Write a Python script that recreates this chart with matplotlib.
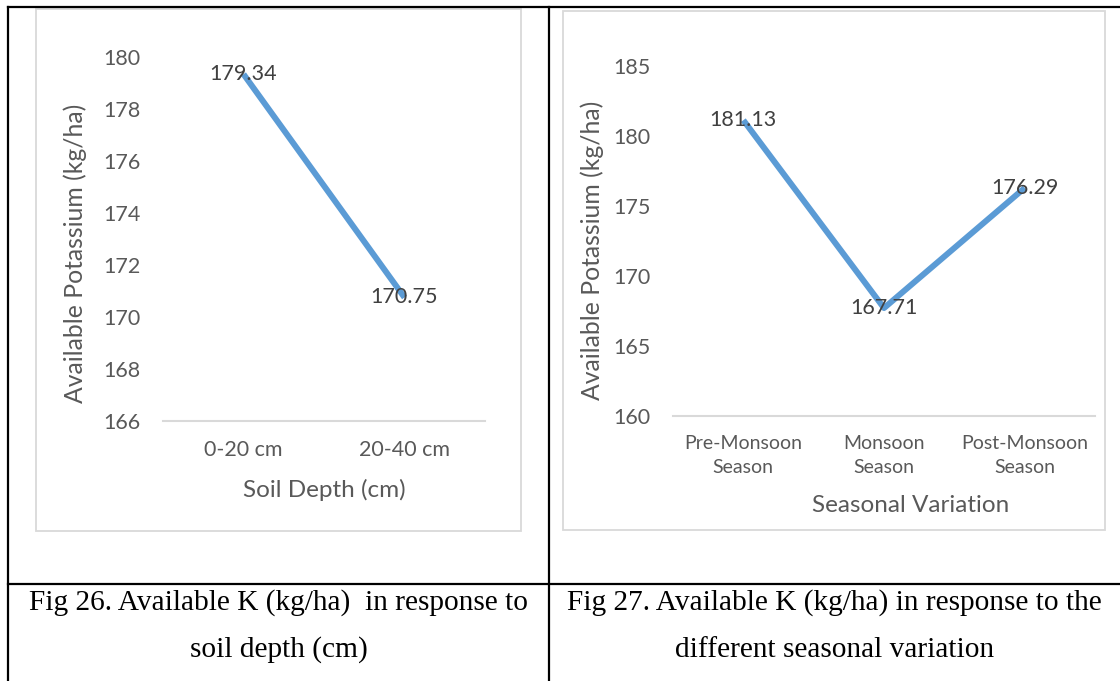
import matplotlib
matplotlib.use("Agg")
import matplotlib.pyplot as plt
from matplotlib.patches import Rectangle
from matplotlib.lines import Line2D

# -----------------------------
# Data
# -----------------------------
depth_labels = ["0-20 cm", "20-40 cm"]
depth_values = [179.34, 170.75]
depth_yticks = [166, 168, 170, 172, 174, 176, 178, 180]

season_labels = ["Pre-Monsoon\nSeason", "Monsoon\nSeason", "Post-Monsoon\nSeason"]
season_values = [181.13, 167.71, 176.29]
season_yticks = [160, 165, 170, 175, 180, 185]

captions = [
    "Fig 26. Available K (kg/ha)  in response to\nsoil depth (cm)",
    "Fig 27. Available K (kg/ha) in response to the\ndifferent seasonal variation",
]

# -----------------------------
# Styling
# -----------------------------
W, H = 1120, 681
LINE_BLUE = "#5B9BD5"
TICK_GREY = "#595959"
LABEL_DARK = "#404040"
BORDER_GREY = "#D9D9D9"
SANS = "Lato"
SERIF = "Liberation Serif"


def fx(x):
    return x / W


def fy(y):
    return 1 - y / H


def axes_rect(x0, y0, x1, y1):
    # pixel box (top-left origin) -> figure fraction rect
    return [fx(x0), fy(y1), (x1 - x0) / W, (y1 - y0) / H]


fig = plt.figure(figsize=(W / 100, H / 100), dpi=100)
fig.patch.set_facecolor("white")


def draw_chart(rect, labels, values, yticks, xtick_size, xtick_pad, spacing):
    ax = fig.add_axes(rect)
    xs = list(range(len(labels)))
    ax.plot(xs, values, color=LINE_BLUE, linewidth=4.3, solid_capstyle="butt", zorder=2)
    for x, v in zip(xs, values):
        ax.text(x, v, f"{v:.2f}", ha="center", va="center", fontsize=15.5,
                family=SANS, color=LABEL_DARK, zorder=3)
    ax.set_xlim(-0.5, len(labels) - 0.5)
    ax.set_ylim(yticks[0], yticks[-1])
    ax.set_yticks(yticks)
    ax.set_yticklabels([str(t) for t in yticks], family=SANS, fontsize=15.5, color=TICK_GREY)
    ax.set_xticks(xs)
    ax.set_xticklabels(labels, family=SANS, fontsize=xtick_size, color=TICK_GREY, linespacing=spacing)
    ax.tick_params(axis="both", length=0)
    ax.tick_params(axis="y", pad=16)
    ax.tick_params(axis="x", pad=xtick_pad)
    for s in ["top", "right", "left"]:
        ax.spines[s].set_visible(False)
    ax.spines["bottom"].set_color(BORDER_GREY)
    ax.spines["bottom"].set_linewidth(1.5)
    ax.set_facecolor("none")
    return ax


# chart area frames
fig.patches.append(Rectangle((fx(36), fy(531)), (521 - 36) / W, (531 - 9) / H,
                             transform=fig.transFigure, fill=False,
                             edgecolor=BORDER_GREY, linewidth=1.3))
fig.patches.append(Rectangle((fx(563), fy(530)), (1105 - 563) / W, (530 - 11) / H,
                             transform=fig.transFigure, fill=False,
                             edgecolor=BORDER_GREY, linewidth=1.3))

draw_chart(axes_rect(163, 57, 485, 421), depth_labels, depth_values, depth_yticks, 15.5, 14, 1.35)
draw_chart(axes_rect(673, 66, 1095, 416), season_labels, season_values, season_yticks, 14, 14, 1.5)

# axis titles
fig.text(fx(324), fy(490), "Soil Depth (cm)", ha="center", va="center",
         family=SANS, fontsize=17.5, color=TICK_GREY)
fig.text(fx(911), fy(505), "Seasonal Variation", ha="center", va="center",
         family=SANS, fontsize=17.5, color=TICK_GREY)
fig.text(fx(75), fy(253), "Available Potassium (kg/ha)", ha="center", va="center",
         rotation=90, family=SANS, fontsize=17.8, color=TICK_GREY)
fig.text(fx(592), fy(250), "Available Potassium (kg/ha)", ha="center", va="center",
         rotation=90, family=SANS, fontsize=17.8, color=TICK_GREY)

# table grid lines
lw = 1.6
fig.lines.append(Line2D([fx(8), fx(1120)], [fy(7), fy(7)], transform=fig.transFigure, color="black", lw=lw))
fig.lines.append(Line2D([fx(8), fx(1120)], [fy(584), fy(584)], transform=fig.transFigure, color="black", lw=lw))
fig.lines.append(Line2D([fx(8), fx(8)], [fy(7), fy(681)], transform=fig.transFigure, color="black", lw=lw))
fig.lines.append(Line2D([fx(549), fx(549)], [fy(7), fy(681)], transform=fig.transFigure, color="black", lw=lw))

# captions
for cx, cap in zip([278.5, 834.5], captions):
    line1, line2 = cap.split("\n")
    fig.text(fx(cx), fy(603), line1, ha="center", va="center", family=SERIF, fontsize=21.2, color="black")
    fig.text(fx(cx), fy(650), line2, ha="center", va="center", family=SERIF, fontsize=21.2, color="black")

fig.savefig("out.png", dpi=100)
